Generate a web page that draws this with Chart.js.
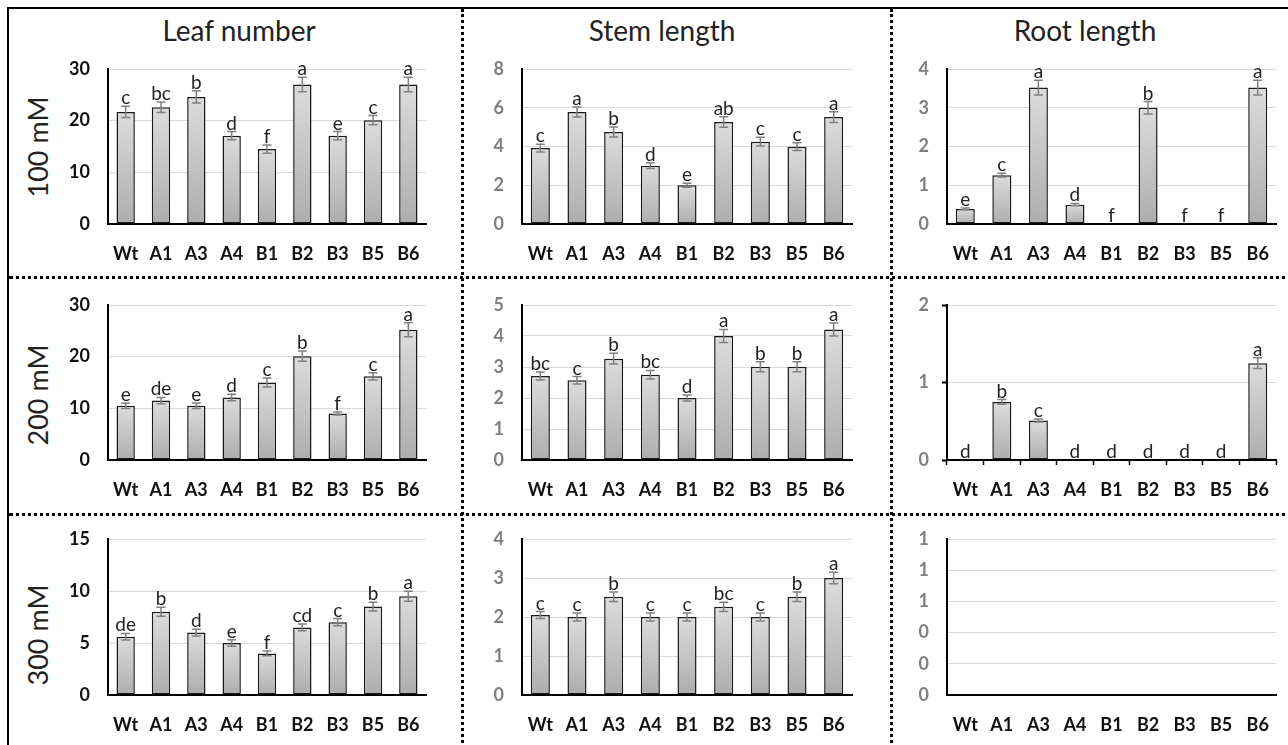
<!DOCTYPE html>
<html>
<head>
<meta charset="utf-8">
<script src="https://cdn.jsdelivr.net/npm/chart.js@4.4.1/dist/chart.umd.min.js"></script>
<style>
body { margin:0; width:1288px; height:745px; overflow:hidden; background:#fff; position:relative; font-family:Lato, sans-serif; }
.frame { position:absolute; left:7px; top:7px; width:1300px; height:760px; border-left:2px solid #000; border-top:2px solid #000; }
.vdot { position:absolute; top:9px; height:740px; border-left:3px dotted #000; }
.hdot { position:absolute; left:9px; width:1290px; border-top:3px dotted #000; }
.title { position:absolute; top:13px; font-size:28px; color:#222; transform:translateX(-50%); white-space:nowrap; }
.rowlab { position:absolute; left:37px; font-size:27px; color:#222; transform:translate(-50%,-50%) rotate(-90deg); white-space:nowrap; }
canvas { position:absolute; }
</style>
</head>
<body>
<div class="frame"></div>
<div class="vdot" style="left:461px"></div>
<div class="vdot" style="left:890px"></div>
<div class="hdot" style="top:276px"></div>
<div class="hdot" style="top:513px"></div>

<div class="title" style="left:239px">Leaf number</div>
<div class="title" style="left:662px">Stem length</div>
<div class="title" style="left:1085px">Root length</div>
<div class="rowlab" style="top:147px">100 mM</div>
<div class="rowlab" style="top:395px">200 mM</div>
<div class="rowlab" style="top:635px">300 mM</div>

<canvas id="leaf100" width="396" height="215" style="left:40px;top:55px"></canvas>
<canvas id="stem100" width="392" height="215" style="left:470px;top:55px"></canvas>
<canvas id="root100" width="391" height="215" style="left:895px;top:55px"></canvas>
<canvas id="leaf200" width="396" height="214" style="left:40px;top:292px"></canvas>
<canvas id="stem200" width="392" height="214" style="left:470px;top:292px"></canvas>
<canvas id="root200" width="391" height="214" style="left:895px;top:292px"></canvas>
<canvas id="leaf300" width="396" height="214" style="left:40px;top:527px"></canvas>
<canvas id="stem300" width="392" height="214" style="left:470px;top:527px"></canvas>
<canvas id="root300" width="391" height="214" style="left:895px;top:527px"></canvas>

<script>
// genotypes
const categories = ['Wt', 'A1', 'A3', 'A4', 'B1', 'B2', 'B3', 'B5', 'B6'];

// 100 mM
const leaf100 = [21.7, 22.6, 24.6, 17.1, 14.5, 27.0, 17.1, 20.1, 27.0];
const leaf100Err = [1.1, 1.0, 1.2, 0.8, 0.8, 1.4, 0.8, 0.9, 1.4];
const leaf100Sig = ['c', 'bc', 'b', 'd', 'f', 'a', 'e', 'c', 'a'];

const stem100 = [3.92, 5.78, 4.75, 3.01, 2.0, 5.27, 4.25, 3.99, 5.52];
const stem100Err = [0.2, 0.26, 0.26, 0.15, 0.1, 0.27, 0.23, 0.2, 0.28];
const stem100Sig = ['c', 'a', 'b', 'd', 'e', 'ab', 'c', 'c', 'a'];

const root100 = [0.39, 1.26, 3.52, 0.5, 0, 3.0, 0, 0, 3.52];
const root100Err = [0.02, 0.05, 0.19, 0.03, 0, 0.16, 0, 0, 0.19];
const root100Sig = ['e', 'c', 'a', 'd', 'f', 'b', 'f', 'f', 'a'];

// 200 mM
const leaf200 = [10.5, 11.5, 10.5, 12.1, 15.0, 20.1, 9.0, 16.2, 25.2];
const leaf200Err = [0.55, 0.6, 0.55, 0.65, 0.85, 1.0, 0.3, 0.7, 1.35];
const leaf200Sig = ['e', 'de', 'e', 'd', 'c', 'b', 'f', 'c', 'a'];

const stem200 = [2.71, 2.57, 3.27, 2.75, 2.0, 4.0, 3.01, 3.01, 4.21];
const stem200Err = [0.13, 0.12, 0.17, 0.14, 0.1, 0.21, 0.16, 0.16, 0.21];
const stem200Sig = ['bc', 'c', 'b', 'bc', 'd', 'a', 'b', 'b', 'a'];

const root200 = [0, 0.75, 0.51, 0, 0, 0, 0, 0, 1.25];
const root200Err = [0, 0.03, 0.02, 0, 0, 0, 0, 0, 0.07];
const root200Sig = ['d', 'b', 'c', 'd', 'd', 'd', 'd', 'd', 'a'];

// 300 mM
const leaf300 = [5.6, 8.0, 6.0, 5.0, 4.0, 6.5, 7.0, 8.5, 9.5];
const leaf300Err = [0.32, 0.43, 0.32, 0.32, 0.22, 0.32, 0.35, 0.43, 0.48];
const leaf300Sig = ['de', 'b', 'd', 'e', 'f', 'cd', 'c', 'b', 'a'];

const stem300 = [2.05, 2.0, 2.52, 2.0, 2.0, 2.26, 2.0, 2.52, 3.0];
const stem300Err = [0.09, 0.1, 0.12, 0.1, 0.1, 0.12, 0.1, 0.12, 0.15];
const stem300Sig = ['c', 'c', 'b', 'c', 'c', 'bc', 'c', 'b', 'a'];

const root300 = [0, 0, 0, 0, 0, 0, 0, 0, 0];
const root300Err = [0, 0, 0, 0, 0, 0, 0, 0, 0];
const root300Sig = ['', '', '', '', '', '', '', '', ''];

// error bars + significance letters
const sigPlugin = {
    id: 'sig',
    afterDatasetsDraw(chart) {
        const ctx = chart.ctx;
        const ys = chart.scales.y;
        const ds = chart.data.datasets[0];
        const meta = chart.getDatasetMeta(0);
        ctx.save();
        meta.data.forEach(function(bar, i) {
            const v = ds.data[i];
            const e = ds.errors[i];
            const x = bar.x;
            let top = ys.getPixelForValue(v);
            if (e > 0) {
                const y1 = ys.getPixelForValue(v + e);
                const y2 = ys.getPixelForValue(v - e);
                ctx.strokeStyle = '#808080';
                ctx.lineWidth = 1.5;
                ctx.beginPath();
                ctx.moveTo(x, y1); ctx.lineTo(x, y2);
                ctx.moveTo(x - 4.5, y1); ctx.lineTo(x + 4.5, y1);
                ctx.moveTo(x - 4.5, y2); ctx.lineTo(x + 4.5, y2);
                ctx.stroke();
                top = y1;
            }
            if (ds.letters[i]) {
                ctx.fillStyle = '#222';
                ctx.font = '19px Lato';
                ctx.textAlign = 'center';
                ctx.textBaseline = 'alphabetic';
                ctx.fillText(ds.letters[i], x, top - 2);
            }
        });
        ctx.restore();
    }
};

function barGradient(c) {
    const chart = c.chart;
    if (!chart.chartArea || c.type !== 'data') return '#c8c8c8';
    const ys = chart.scales.y;
    const top = ys.getPixelForValue(c.raw);
    const base = ys.getPixelForValue(0);
    if (base - top < 1) return '#c8c8c8';
    const g = chart.ctx.createLinearGradient(0, top, 0, base);
    g.addColorStop(0, '#dcdcdc');
    g.addColorStop(1, '#adadad');
    return g;
}

const axisWidth = [68, 52, 52];
const padTop = [14, 13, 12];

function drawPanel(id, values, errors, letters, yMax, step, col, row, withTicks) {
    const ctx = document.getElementById(id).getContext('2d');
    const tickLen = withTicks ? 5 : 0;
    new Chart(ctx, {
        type: 'bar',
        data: {
            labels: categories,
            datasets: [{
                data: values,
                errors: errors,
                letters: letters,
                backgroundColor: barGradient,
                borderColor: '#1a1a1a',
                borderWidth: 1.5,
                borderSkipped: false,
                barPercentage: 0.52,
                categoryPercentage: 1
            }]
        },
        options: {
            responsive: false,
            animation: false,
            layout: { padding: { top: padTop[row], right: 10, left: 0, bottom: 0 } },
            plugins: { legend: { display: false }, tooltip: { enabled: false } },
            scales: {
                x: {
                    grid: { display: withTicks, drawOnChartArea: false, drawTicks: withTicks,
                            tickLength: tickLen, tickColor: '#000', tickWidth: 1.5, offset: true },
                    border: { display: true, color: '#000', width: 2 },
                    ticks: { color: '#111', font: { family: 'Lato', size: 18, weight: 'bold' },
                             padding: 19 - tickLen, maxRotation: 0, autoSkip: false },
                    afterFit: function(s) { s.height = 46; s.paddingLeft = 0; s.paddingRight = 0; }
                },
                y: {
                    min: 0,
                    max: yMax,
                    ticks: {
                        stepSize: step,
                        color: col === 0 ? '#111' : '#7f7f7f',
                        font: { family: 'Lato', size: 18, weight: 'bold' },
                        padding: 18 - tickLen,
                        callback: function(v) { return Math.round(v); }
                    },
                    grid: { color: '#d9d9d9', lineWidth: 1, drawTicks: withTicks,
                            tickLength: tickLen, tickColor: '#000', tickWidth: 2 },
                    border: { display: true, color: '#000', width: 2 },
                    afterFit: function(s) { s.width = axisWidth[col]; s.paddingTop = 0; s.paddingBottom = 0; }
                }
            }
        },
        plugins: [sigPlugin]
    });
}

drawPanel('leaf100', leaf100, leaf100Err, leaf100Sig, 30, 10, 0, 0, false);
drawPanel('stem100', stem100, stem100Err, stem100Sig, 8, 2, 1, 0, false);
drawPanel('root100', root100, root100Err, root100Sig, 4, 1, 2, 0, false);
drawPanel('leaf200', leaf200, leaf200Err, leaf200Sig, 30, 10, 0, 1, false);
drawPanel('stem200', stem200, stem200Err, stem200Sig, 5, 1, 1, 1, false);
drawPanel('root200', root200, root200Err, root200Sig, 2, 1, 2, 1, true);
drawPanel('leaf300', leaf300, leaf300Err, leaf300Sig, 15, 5, 0, 2, false);
drawPanel('stem300', stem300, stem300Err, stem300Sig, 4, 1, 1, 2, false);
drawPanel('root300', root300, root300Err, root300Sig, 1, 0.2, 2, 2, false);
</script>
</body>
</html>
